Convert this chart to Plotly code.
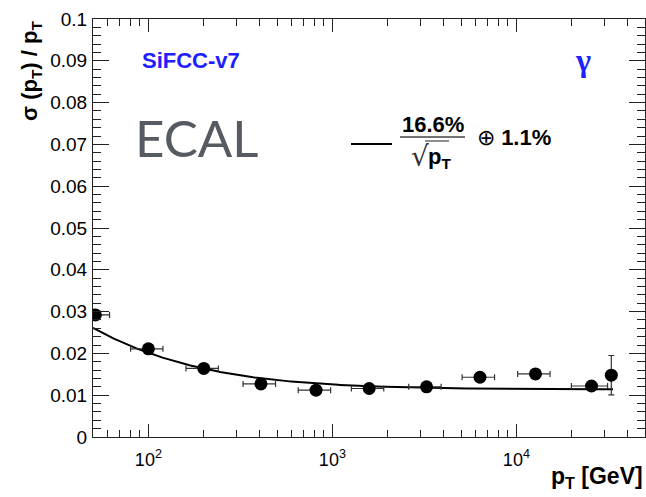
import numpy as np
import plotly.graph_objects as go

# ---- data ----
pt = [51.5, 100, 200, 409, 815, 1585, 3250, 6340, 12700, 25600, 32800]
res = [0.0292, 0.0211, 0.0164, 0.0127, 0.0112, 0.0116, 0.0120, 0.0143, 0.0151, 0.0122, 0.0148]
pt_err = [10, 20, 40, 82, 163, 317, 650, 1270, 2540, 5700, 0]
res_err = [0, 0, 0, 0, 0, 0, 0, 0, 0, 0, 0.0047]

# fit parameters (legend: 16.6%/sqrt(pT) (+) 1.1%)
fit_stoch = 0.166
fit_const = 0.0114
fit_range = [50, 33500]

x_tickvals = [100, 1000, 10000]
x_ticktext = ["10<sup>2</sup>", "10<sup>3</sup>", "10<sup>4</sup>"]
x_minor = [60, 70, 80, 90, 200, 300, 400, 500, 600, 700, 800, 900,
           2000, 3000, 4000, 5000, 6000, 7000, 8000, 9000, 20000, 30000, 40000]

W, H = 646, 497
L, R, T, B = 93, 1, 19, 60
PW, PH = W - L - R, H - T - B


def px(x):
    return (x - L) / PW


def py(y):
    return (H - B - y) / PH


fx = np.logspace(np.log10(fit_range[0]), np.log10(fit_range[1]), 300)
fy = np.sqrt((fit_stoch / np.sqrt(fx)) ** 2 + fit_const ** 2)

fig = go.Figure()
fig.add_trace(go.Scatter(x=fx, y=fy, mode="lines",
                         line=dict(color="black", width=2), hoverinfo="skip"))
fig.add_trace(go.Scatter(
    x=pt, y=res, mode="markers",
    marker=dict(color="black", size=13, symbol="circle"),
    error_x=dict(type="data", array=pt_err, color="#333", thickness=1.2, width=3),
    error_y=dict(type="data", array=res_err, color="#333", thickness=1.2, width=3),
))

font = "Liberation Sans, Arial, sans-serif"
fig.update_layout(
    width=W, height=H,
    margin=dict(l=L, r=R, t=T, b=B),
    paper_bgcolor="white", plot_bgcolor="white",
    showlegend=False,
    font=dict(family=font, color="black"),
    xaxis=dict(
        type="log", range=[np.log10(50), np.log10(50000)],
        showgrid=False, zeroline=False,
        showline=True, linecolor="#222", linewidth=1, mirror="ticks",
        ticks="inside", ticklen=13, tickcolor="#222",
        tickvals=x_tickvals, ticktext=x_ticktext,
        tickfont=dict(size=18, family=font),
        ticklabelstandoff=6,
        minor=dict(ticks="inside", ticklen=7, tickcolor="#222", tickvals=x_minor, showgrid=False),
    ),
    yaxis=dict(
        range=[0, 0.1], dtick=0.01, tick0=0,
        showgrid=False, zeroline=False,
        showline=True, linecolor="#222", linewidth=1, mirror="ticks",
        ticks="inside", ticklen=16, tickcolor="#222",
        tickfont=dict(size=19, family=font),
        ticklabelstandoff=1,
        minor=dict(ticks="inside", ticklen=8, tickcolor="#222", dtick=0.002, showgrid=False),
    ),
)

anns = []
# axis titles
anns.append(dict(text="<b>σ (p<sub>T</sub>) / p<sub>T</sub></b>", textangle=-90,
                 x=px(31), y=py(19), xanchor="center", yanchor="top",
                 font=dict(size=22, family=font)))
anns.append(dict(text="<b>p<sub>T</sub> [GeV]</b>", x=px(645), y=py(478),
                 xanchor="right", yanchor="middle", font=dict(size=23, family=font)))
# labels
anns.append(dict(text="<b>SiFCC-v7</b>", x=px(140), y=py(60), xanchor="left", yanchor="middle",
                 font=dict(size=22, family=font, color="#2020ff")))
anns.append(dict(text="ECAL", x=px(133), y=py(137), xanchor="left", yanchor="middle",
                 font=dict(size=51, family="Lato, Open Sans, sans-serif", color="#565b61")))
anns.append(dict(text="<b>γ</b>", x=px(583), y=py(60), xanchor="center", yanchor="middle",
                 font=dict(size=32, family="Liberation Serif, serif", color="#2020ff")))
# legend formula
anns.append(dict(text="<b>16.6%</b>", x=px(433), y=py(124), xanchor="center", yanchor="middle",
                 font=dict(size=22, family=font)))
anns.append(dict(text="√", x=px(420), y=py(157), xanchor="center", yanchor="middle",
                 font=dict(size=28, family="DejaVu Sans, sans-serif", color="#333")))
anns.append(dict(text="<b>p<sub>T</sub></b>", x=px(426), y=py(158), xanchor="left", yanchor="middle",
                 font=dict(size=22, family=font)))
anns.append(dict(text="⊕ <b>1.1%</b>", x=px(475), y=py(137), xanchor="left", yanchor="middle",
                 font=dict(size=22, family=font)))
for a in anns:
    a.update(xref="paper", yref="paper", showarrow=False)
fig.update_layout(annotations=anns)

shapes = [
    dict(type="line", x0=px(351), x1=px(392), y0=py(144), y1=py(144), line=dict(color="black", width=2)),
    dict(type="line", x0=px(400), x1=px(465), y0=py(137), y1=py(137), line=dict(color="#444", width=1.5)),
    dict(type="line", x0=px(425), x1=px(449), y0=py(141), y1=py(141), line=dict(color="#444", width=1.2)),
]
for s in shapes:
    s.update(xref="paper", yref="paper")
fig.update_layout(shapes=shapes)

fig.write_html("out.html")
